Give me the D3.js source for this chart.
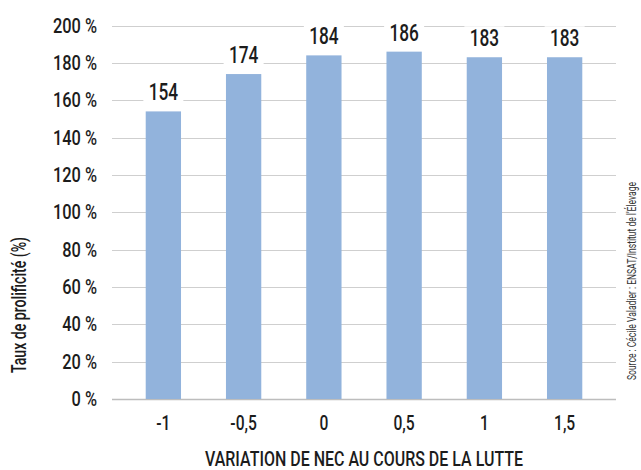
<!DOCTYPE html>
<html>
<head>
<meta charset="utf-8">
<script src="https://cdn.jsdelivr.net/npm/d3@7"></script>
<style>
  body { margin: 0; background: #fff; }
  svg { display: block; }
  text { font-family: "Roboto", "Liberation Sans", sans-serif; font-weight: 500; fill: #1c1c1c; }
</style>
</head>
<body>
<svg></svg>
<script>
var categories = ["-1", "-0,5", "0", "0,5", "1", "1,5"];
var values = [154, 174, 184, 186, 183, 183];
var yTicks = [0, 20, 40, 60, 80, 100, 120, 140, 160, 180, 200];

var width = 641,
    height = 470,
    plot = { left: 112, right: 616, top: 25.5, bottom: 399 };

var svg = d3.select("svg")
    .attr("width", width)
    .attr("height", height);

// squeeze text horizontally to mimic the condensed face of the original
function condense(sel, f) {
    sel.each(function() {
        var w = this.getComputedTextLength();
        d3.select(this)
            .attr("textLength", w * f)
            .attr("lengthAdjust", "spacingAndGlyphs");
    });
}

function fitTo(sel, w) {
    sel.attr("textLength", w).attr("lengthAdjust", "spacingAndGlyphs");
}

var x = d3.scaleBand()
    .domain(categories)
    .range([plot.left, plot.right])
    .paddingInner(0.56)
    .paddingOuter(0.42);

var y = d3.scaleLinear()
    .domain([0, 200])
    .range([plot.bottom, plot.top]);

// gridlines
svg.append("g")
    .selectAll("line")
    .data(yTicks)
    .enter().append("line")
    .attr("x1", plot.left)
    .attr("x2", plot.right)
    .attr("y1", function(d) { return Math.round(y(d)) + 0.5; })
    .attr("y2", function(d) { return Math.round(y(d)) + 0.5; })
    .attr("stroke", function(d) { return d === 0 ? "#bdbdbd" : "#cfcfcf"; })
    .attr("stroke-width", function(d) { return d === 0 ? 1.5 : 1; });

// y tick labels
svg.append("g")
    .selectAll("text")
    .data(yTicks)
    .enter().append("text")
    .attr("x", 97)
    .attr("y", function(d) { return y(d); })
    .attr("dy", "0.34em")
    .attr("text-anchor", "end")
    .style("font-size", "21px")
    .text(function(d) { return d + " %"; })
    .call(condense, 0.78);

// bars
svg.append("g")
    .selectAll("rect")
    .data(values)
    .enter().append("rect")
    .attr("x", function(d, i) { return x(categories[i]); })
    .attr("y", function(d) { return y(d); })
    .attr("width", x.bandwidth())
    .attr("height", function(d) { return y(0) - y(d); })
    .attr("fill", "#92b3dc");

// data labels with white backing
var lab = svg.append("g")
    .selectAll("g")
    .data(values)
    .enter().append("g")
    .attr("transform", function(d, i) {
        return "translate(" + (x(categories[i]) + x.bandwidth() / 2) + "," + (y(d) - 11) + ")";
    });

lab.append("rect")
    .attr("x", -20)
    .attr("y", -20)
    .attr("width", 40)
    .attr("height", 22)
    .attr("fill", "#fff");

lab.append("text")
    .attr("text-anchor", "middle")
    .style("font-size", "23px")
    .text(function(d) { return d; })
    .call(condense, 0.75);

// x tick labels
svg.append("g")
    .selectAll("text")
    .data(categories)
    .enter().append("text")
    .attr("x", function(d) { return x(d) + x.bandwidth() / 2; })
    .attr("y", 430)
    .attr("text-anchor", "middle")
    .style("font-size", "20px")
    .text(function(d) { return d; })
    .call(condense, 0.78);

// axis titles
svg.append("text")
    .attr("x", (plot.left + plot.right) / 2)
    .attr("y", 466)
    .attr("text-anchor", "middle")
    .style("font-size", "21px")
    .text("VARIATION DE NEC AU COURS DE LA LUTTE")
    .call(fitTo, 318);

svg.append("text")
    .attr("transform", "translate(26,305)rotate(-90)")
    .attr("text-anchor", "middle")
    .style("font-size", "20px")
    .text("Taux de prolificité (%)")
    .call(fitTo, 136);

svg.append("text")
    .attr("transform", "translate(636,281)rotate(-90)")
    .attr("text-anchor", "middle")
    .style("font-size", "12px")
    .style("font-weight", "400")
    .style("fill", "#333")
    .text("Source : Cécile Valadier : ENSAT/Institut de l’Élevage")
    .call(fitTo, 198);
</script>
</body>
</html>
